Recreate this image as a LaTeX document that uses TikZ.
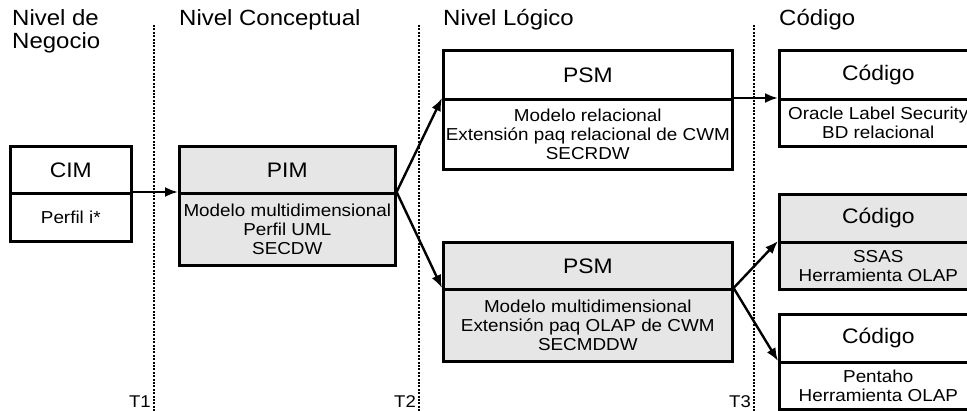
\documentclass[tikz,border=0pt]{standalone}
\usepackage{fontspec}
\setmainfont[FakeStretch=1.09]{Liberation Sans}
\usetikzlibrary{arrows.meta}
\definecolor{boxgray}{HTML}{E6E6E6}
\tikzset{
  hdr/.style={draw, line width=2.6pt, anchor=north west, inner sep=0pt, align=center,
    font=\fontsize{21}{24}\selectfont},
  bdy/.style={draw, line width=2.6pt, anchor=north west, inner sep=0pt, align=center,
    font=\fontsize{17.3}{19}\selectfont},
  grayfill/.style={fill=boxgray},
  heading/.style={anchor=base west, inner sep=0pt, font=\fontsize{22}{24}\selectfont},
  tlabel/.style={anchor=base east, inner sep=0pt, font=\fontsize{17}{19}\selectfont},
  dotline/.style={line width=2.2pt, dash pattern=on 2pt off 1.4pt},
  conn/.style={line width=2.4pt, -{Latex[length=13pt,width=10pt]}}
}
\begin{document}
\begin{tikzpicture}[x=1pt,y=-1pt]
\useasboundingbox (0,0) rectangle (967,411);
\clip (0,0) rectangle (967,411);

% separators
\coordinate (t1a) at (154,25); \coordinate (t1b) at (154,411);
\coordinate (t2a) at (419,25); \coordinate (t2b) at (419,411);
\coordinate (t3a) at (754,25); \coordinate (t3b) at (754,411);
\draw[dotline] (t1a) -- (t1b);
\draw[dotline] (t2a) -- (t2b);
\draw[dotline] (t3a) -- (t3b);

% headings
\node[heading] (h1a) at (12,26) {Nivel de};
\node[heading] (h1b) at (12,49) {Negocio};
\node[heading] (h2) at (179,26) {Nivel Conceptual};
\node[heading] (h3) at (443,26) {Nivel Lógico};
\node[heading] (h4) at (779,26) {Código};

% T labels
\node[tlabel] (T1) at (151,408) {T1};
\node[tlabel] (T2) at (416,408) {T2};
\node[tlabel] (T3) at (751,408) {T3};

% CIM
\node[hdr, minimum width=121pt, minimum height=47pt] (cimH) at (9,145) {CIM};
\node[bdy, minimum width=121pt, minimum height=48pt] (cimB) at (9,192) {Perfil i*};

% PIM
\node[hdr, grayfill, minimum width=216pt, minimum height=47pt] (pimH) at (178,145) {PIM};
\node[bdy, grayfill, minimum width=216pt, minimum height=72pt] (pimB) at (178,192)
  {Modelo multidimensional\\Perfil UML\\SECDW};

% PSM relational
\node[hdr, minimum width=289pt, minimum height=49pt] (psm1H) at (442,49) {PSM};
\node[bdy, minimum width=289pt, minimum height=70pt] (psm1B) at (442,98)
  {Modelo relacional\\Extensión paq relacional de CWM\\SECRDW};

% PSM multidimensional
\node[hdr, grayfill, minimum width=289pt, minimum height=47pt] (psm2H) at (442,241) {PSM};
\node[bdy, grayfill, minimum width=289pt, minimum height=72pt] (psm2B) at (442,288)
  {Modelo multidimensional\\Extensión paq OLAP de CWM\\SECMDDW};

% Code boxes
\node[hdr, minimum width=198pt, minimum height=49pt] (c1H) at (778,49) {Código};
\node[bdy, minimum width=198pt, minimum height=47pt] (c1B) at (778,98)
  {Oracle Label Security\\BD relacional};

\node[hdr, grayfill, minimum width=198pt, minimum height=48pt] (c2H) at (778,193) {Código};
\node[bdy, grayfill, minimum width=198pt, minimum height=47pt] (c2B) at (778,241)
  {SSAS\\Herramienta OLAP};

\node[hdr, minimum width=198pt, minimum height=48pt] (c3H) at (778,313) {Código};
\node[bdy, minimum width=198pt, minimum height=47pt] (c3B) at (778,361)
  {Pentaho\\Herramienta OLAP};

% connectors
\draw[conn] (cimB.north east) -- (pimB.north west);
\draw[conn] (pimB.north east) -- (psm1B.north west);
\draw[conn] (pimB.north east) -- (psm2B.north west);
\draw[conn] (psm1B.north east) -- (c1B.north west);
\draw[conn] (psm2B.north east) -- (c2B.north west);
\draw[conn] (psm2B.north east) -- (c3B.north west);
\end{tikzpicture}
\end{document}
